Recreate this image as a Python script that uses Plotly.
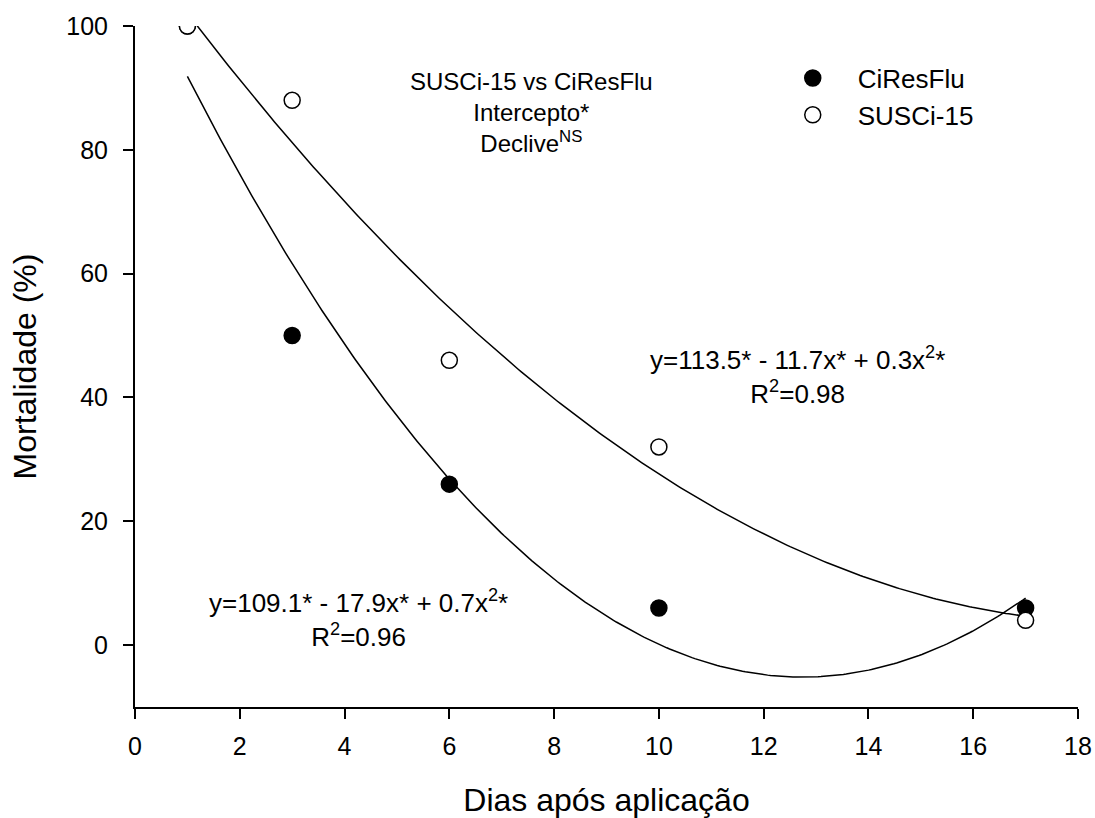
import numpy as np
import plotly.graph_objects as go

# Days after application
dias = [1, 3, 6, 10, 17]
# Mortality (%) per population
mort_ciresflu = [100, 50, 26, 6, 6]
mort_susci = [100, 88, 46, 32, 4]

x_ticks = [0, 2, 4, 6, 8, 10, 12, 14, 16, 18]
y_ticks = [0, 20, 40, 60, 80, 100]

FONT = "Liberation Sans, Arial, sans-serif"

# Quadratic regression curves fitted to each series
xfit = np.linspace(min(dias), max(dias), 300)
coef_cir = np.polyfit(dias, mort_ciresflu, 2)
coef_sus = np.polyfit(dias, mort_susci, 2)

fig = go.Figure()

fig.add_trace(go.Scatter(x=xfit, y=np.polyval(coef_cir, xfit), mode="lines",
                         line=dict(color="black", width=1.5), showlegend=False,
                         hoverinfo="skip"))
fig.add_trace(go.Scatter(x=xfit, y=np.polyval(coef_sus, xfit), mode="lines",
                         line=dict(color="black", width=1.5), showlegend=False,
                         hoverinfo="skip"))

fig.add_trace(go.Scatter(x=dias, y=mort_ciresflu, mode="markers", name="CiResFlu",
                         marker=dict(symbol="circle", size=16, color="black",
                                     line=dict(color="black", width=1.5))))
fig.add_trace(go.Scatter(x=dias, y=mort_susci, mode="markers", name="SUSCi-15",
                         marker=dict(symbol="circle", size=16, color="white",
                                     line=dict(color="black", width=1.5))))

fig.add_annotation(x=7.56, y=86, xref="x", yref="y", showarrow=False,
                   text="SUSCi-15 vs CiResFlu<br>Intercepto*<br>Declive<sup>NS</sup>",
                   font=dict(size=24, color="black", family=FONT), align="center")
fig.add_annotation(x=12.64, y=43.5, xref="x", yref="y", showarrow=False,
                   text="y=113.5* - 11.7x* + 0.3x<sup>2</sup>*<br>R<sup>2</sup>=0.98",
                   font=dict(size=26, color="black", family=FONT), align="center")
fig.add_annotation(x=4.27, y=4.3, xref="x", yref="y", showarrow=False,
                   text="y=109.1* - 17.9x* + 0.7x<sup>2</sup>*<br>R<sup>2</sup>=0.96",
                   font=dict(size=26, color="black", family=FONT), align="center")

axis_common = dict(showline=True, linecolor="black", linewidth=2, ticks="outside",
                   ticklen=10, tickwidth=2, tickcolor="black", showgrid=False,
                   zeroline=False, tickfont=dict(size=25, color="black", family=FONT))

fig.update_xaxes(range=[0, 18], tickvals=x_ticks, ticklabelstandoff=6,
                 title=dict(text="Dias após aplicação", standoff=30,
                            font=dict(size=32, color="black", family=FONT)),
                 **axis_common)
fig.update_yaxes(range=[-10, 100], tickvals=y_ticks, ticklabelstandoff=10,
                 title=dict(text="Mortalidade (%)", standoff=20,
                            font=dict(size=32, color="black", family=FONT)),
                 **axis_common)

fig.update_layout(
    width=1095, height=818,
    margin=dict(l=135, r=17, t=26, b=111, autoexpand=False),
    paper_bgcolor="white", plot_bgcolor="white",
    font=dict(family=FONT, color="black"),
    legend=dict(x=0.671, y=0.958, xanchor="left", yanchor="top",
                bgcolor="rgba(0,0,0,0)", itemwidth=80,
                font=dict(size=26, color="black", family=FONT)),
)

fig.write_html("out.html")
